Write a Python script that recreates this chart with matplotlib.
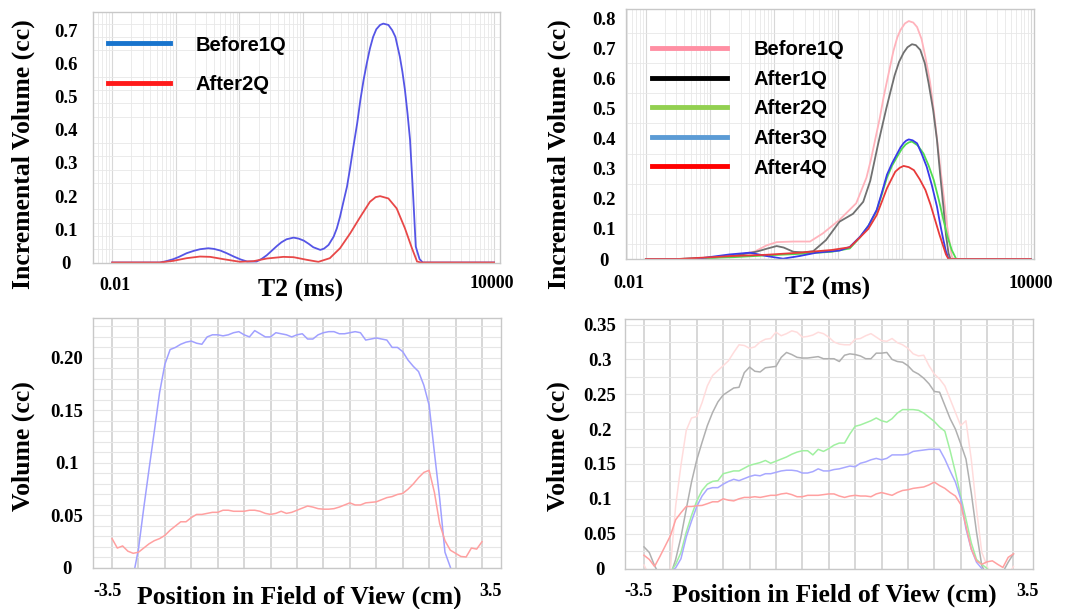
import numpy as np
import matplotlib
matplotlib.use("Agg")
import matplotlib.pyplot as plt
from matplotlib.lines import Line2D
from matplotlib.ticker import MultipleLocator, LogLocator

# ---- NMR T2 distribution, left (log10 of T2 in ms, incremental volume cc)
tl_before_logt2 = [-2, -1.6, -1.25, -1.15, -1.04, -0.95, -0.83, -0.72, -0.62, -0.49, -0.4, -0.3, -0.2, -0.09,
                   0.02, 0.12, 0.27, 0.35, 0.43, 0.51, 0.59, 0.66, 0.74, 0.85, 0.93, 1.01, 1.09, 1.16, 1.27,
                   1.33, 1.4, 1.48, 1.53, 1.58, 1.63, 1.69, 1.74, 1.79, 1.85, 1.9, 1.95, 2.0, 2.05, 2.1, 2.15,
                   2.21, 2.26, 2.34, 2.4, 2.45, 2.52, 2.56, 2.6, 2.64, 2.68, 2.73, 2.77, 2.83, 2.88, 4]
tl_before_vol = [0, 0, 0, 0.004, 0.01, 0.017, 0.028, 0.035, 0.04, 0.043, 0.041, 0.036, 0.028, 0.018,
                 0.009, 0.003, 0.003, 0.011, 0.022, 0.036, 0.05, 0.061, 0.07, 0.075, 0.072, 0.066, 0.056, 0.046, 0.038,
                 0.042, 0.053, 0.078, 0.103, 0.138, 0.18, 0.229, 0.287, 0.349, 0.42, 0.49, 0.55, 0.6, 0.645, 0.68, 0.703,
                 0.716, 0.72, 0.716, 0.70, 0.68, 0.62, 0.575, 0.52, 0.45, 0.37, 0.198, 0.048, 0.01, 0, 0]
tl_after2_logt2 = [-2, -1.25, -1.04, -0.83, -0.62, -0.46, -0.25, 0.01, 0.22, 0.43, 0.69, 0.85, 1.06, 1.24, 1.42,
                   1.58, 1.74, 1.9, 2.05, 2.14, 2.21, 2.34, 2.47, 2.6, 2.71, 2.79, 2.85, 4]
tl_after2_vol = [0, 0, 0.005, 0.013, 0.018, 0.017, 0.01, 0.002, 0.004, 0.012, 0.017, 0.016, 0.008, 0.002, 0.013,
                 0.043, 0.088, 0.138, 0.183, 0.197, 0.2, 0.193, 0.163, 0.103, 0.043, 0.003, 0, 0]

# ---- NMR T2 distribution, right
tr_before1_logt2 = [-2, -1.3, -1.0, -0.6, -0.3, -0.12, 0.04, 0.3, 0.56, 0.76, 1.02, 1.28, 1.44, 1.51, 1.58, 1.65,
                    1.71, 1.79, 1.86, 1.92, 1.97, 2.04, 2.1, 2.17, 2.23, 2.3, 2.36, 2.43, 2.49, 2.54, 2.59, 2.65,
                    2.7, 2.77, 2.8, 4]
tr_before1_vol = [0, 0, 0.003, 0.012, 0.025, 0.045, 0.056, 0.058, 0.058, 0.085, 0.13, 0.185, 0.27, 0.33, 0.4, 0.47,
                  0.54, 0.62, 0.69, 0.735, 0.76, 0.782, 0.79, 0.785, 0.77, 0.73, 0.67, 0.59, 0.494, 0.40, 0.306, 0.20,
                  0.107, 0.008, 0, 0]
tr_after1_logt2 = [-2, -1.3, -1.0, -0.64, -0.28, -0.1, 0.04, 0.15, 0.3, 0.45, 0.61, 0.81, 1.02, 1.23, 1.39, 1.5,
                   1.56, 1.62, 1.69, 1.75, 1.82, 1.88, 1.95, 2.02, 2.08, 2.15, 2.21, 2.28, 2.35, 2.41, 2.48, 2.54,
                   2.59, 2.64, 2.68, 2.72, 2.75, 4]
tr_after1_vol = [0, 0, 0.004, 0.01, 0.024, 0.035, 0.043, 0.038, 0.024, 0.022, 0.026, 0.063, 0.124, 0.15, 0.19, 0.26,
                 0.32, 0.38, 0.445, 0.5, 0.56, 0.61, 0.655, 0.685, 0.703, 0.713, 0.71, 0.694, 0.65, 0.583, 0.495, 0.395,
                 0.28, 0.174, 0.08, 0.019, 0, 0]
tr_after2_logt2 = [-2, -1.5, -0.64, -0.12, 0.4, 0.9, 1.18, 1.34, 1.47, 1.6, 1.68, 1.76, 1.84, 1.92, 1.99, 2.05,
                   2.1, 2.15, 2.24, 2.33, 2.41, 2.49, 2.57, 2.64, 2.71, 2.77, 2.84, 4]
tr_after2_vol = [0, 0, 0.006, 0.012, 0.017, 0.024, 0.035, 0.072, 0.11, 0.16, 0.215, 0.27, 0.31, 0.34, 0.365, 0.38,
                 0.387, 0.39, 0.377, 0.35, 0.31, 0.262, 0.195, 0.13, 0.07, 0.03, 0, 0]
tr_after3_logt2 = [-2, -1.5, -1.16, -0.7, -0.38, -0.12, 0.14, 0.4, 0.66, 1.02, 1.18, 1.34, 1.47, 1.6, 1.68, 1.76,
                   1.84, 1.92, 1.97, 2.02, 2.06, 2.1, 2.16, 2.23, 2.3, 2.38, 2.46, 2.54, 2.59, 2.64, 2.68, 2.72, 4]
tr_after3_vol = [0, 0, 0.002, 0.015, 0.021, 0.01, 0.001, 0.01, 0.021, 0.028, 0.04, 0.074, 0.11, 0.163, 0.22, 0.28,
                 0.318, 0.35, 0.37, 0.385, 0.393, 0.397, 0.394, 0.384, 0.35, 0.306, 0.245, 0.174, 0.115, 0.063,
                 0.025, 0, 0]
tr_after4_logt2 = [-2, -1.5, -0.64, -0.12, 0.4, 0.9, 1.18, 1.34, 1.47, 1.6, 1.68, 1.76, 1.83, 1.89, 1.96, 2.02,
                   2.1, 2.18, 2.27, 2.36, 2.44, 2.51, 2.58, 2.64, 2.68, 2.72, 4]
tr_after4_vol = [0, 0, 0.01, 0.014, 0.021, 0.03, 0.039, 0.072, 0.10, 0.146, 0.19, 0.235, 0.265, 0.29, 0.303, 0.309,
                 0.305, 0.295, 0.265, 0.229, 0.18, 0.13, 0.08, 0.041, 0.015, 0, 0]

# ---- volume along the field of view (cm)
fov_pos = [-3.5, -3.4, -3.3, -3.2, -3.1, -3.0, -2.9, -2.8, -2.7, -2.6, -2.5, -2.4, -2.3, -2.2, -2.1,
           -2.0, -1.9, -1.8, -1.7, -1.6, -1.5, -1.4, -1.3, -1.2, -1.1, -1.0, -0.9, -0.8, -0.7, -0.6,
           -0.5, -0.4, -0.3, -0.2, -0.1, 0.0, 0.1, 0.2, 0.3, 0.4, 0.5, 0.6, 0.7, 0.8, 0.9,
           1.0, 1.1, 1.2, 1.3, 1.4, 1.5, 1.6, 1.7, 1.8, 1.9, 2.0, 2.1, 2.2, 2.3, 2.4,
           2.5, 2.6, 2.7, 2.8, 2.9, 3.0, 3.1, 3.2, 3.3, 3.4, 3.5]

bl_before = [-0.03, -0.03, -0.03, -0.025, -0.008,
             0.018, 0.057, 0.094, 0.130, 0.167, 0.194, 0.208, 0.210, 0.213, 0.215,
             0.216, 0.214, 0.213, 0.220, 0.222, 0.222, 0.221, 0.222, 0.224, 0.225,
             0.222, 0.220, 0.226, 0.223, 0.220, 0.220, 0.224, 0.223, 0.222, 0.220,
             0.222, 0.223, 0.218, 0.218, 0.222, 0.224, 0.225, 0.225, 0.223, 0.223,
             0.224, 0.225, 0.224, 0.217, 0.218, 0.219, 0.218, 0.217, 0.210, 0.210,
             0.206, 0.198, 0.192, 0.187, 0.174, 0.155, 0.110, 0.066, 0.015, 0.001,
             -0.015, -0.03, -0.03, -0.03, -0.03, -0.03]
bl_after2 = [0.028, 0.019, 0.021, 0.016, 0.014,
             0.015, 0.019, 0.023, 0.026, 0.028, 0.031, 0.036, 0.040, 0.044, 0.044,
             0.048, 0.051, 0.051, 0.052, 0.053, 0.053, 0.055, 0.055, 0.054, 0.054,
             0.054, 0.055, 0.055, 0.054, 0.052, 0.051, 0.052, 0.054, 0.052, 0.053,
             0.055, 0.057, 0.059, 0.058, 0.0565, 0.056, 0.056, 0.0565, 0.058, 0.060,
             0.062, 0.060, 0.060, 0.062, 0.0625, 0.063, 0.065, 0.067, 0.068, 0.070,
             0.071, 0.075, 0.080, 0.086, 0.091, 0.093, 0.072, 0.042, 0.026, 0.017,
             0.014, 0.011, 0.0105, 0.019, 0.018, 0.025]

br_before1 = [0.005, -0.01, -0.03, -0.03, -0.03,
              0.0, 0.09, 0.148, 0.198, 0.216, 0.218, 0.238, 0.262, 0.277, 0.284,
              0.291, 0.298, 0.31, 0.321, 0.32, 0.316, 0.318, 0.325, 0.329, 0.33,
              0.339, 0.334, 0.337, 0.341, 0.339, 0.332, 0.333, 0.335, 0.339, 0.337,
              0.332, 0.325, 0.322, 0.321, 0.321, 0.329, 0.33, 0.334, 0.337, 0.332,
              0.327, 0.326, 0.33, 0.324, 0.321, 0.316, 0.308, 0.305, 0.306, 0.291,
              0.279, 0.272, 0.262, 0.243, 0.224, 0.205, 0.212, 0.157, 0.085, 0.023,
              0.004, -0.02, -0.03, -0.03, -0.01, 0.003]
br_after1 = [0.031, 0.023, 0.004, -0.01, -0.02,
             -0.01, 0.013, 0.045, 0.085, 0.124, 0.156, 0.181, 0.205, 0.224, 0.239,
             0.249, 0.254, 0.259, 0.26, 0.281, 0.289, 0.283, 0.282, 0.288, 0.289,
             0.29, 0.303, 0.31, 0.307, 0.303, 0.302, 0.302, 0.303, 0.304, 0.301,
             0.301, 0.301, 0.297, 0.306, 0.308, 0.307, 0.305, 0.301, 0.301, 0.309,
             0.309, 0.31, 0.30, 0.297, 0.296, 0.291, 0.283, 0.279, 0.273, 0.265,
             0.254, 0.253, 0.234, 0.215, 0.20, 0.179, 0.157, 0.109, 0.052, 0.004,
             -0.01, -0.02, -0.02, -0.005, 0.009, 0.021]
br_after2 = [-0.03, -0.03, -0.03, -0.03, -0.03,
             -0.005, 0.006, 0.023, 0.052, 0.076, 0.097, 0.112, 0.121, 0.125, 0.126,
             0.136, 0.138, 0.14, 0.14, 0.144, 0.148, 0.15, 0.152, 0.155, 0.151,
             0.154, 0.157, 0.16, 0.164, 0.167, 0.169, 0.169, 0.163, 0.171, 0.168,
             0.172, 0.177, 0.18, 0.18, 0.193, 0.204, 0.206, 0.209, 0.212, 0.216,
             0.212, 0.21, 0.215, 0.223, 0.228, 0.228, 0.228, 0.227, 0.223, 0.217,
             0.211, 0.203, 0.197, 0.169, 0.138, 0.104, 0.071, 0.037, 0.013, 0.006,
             0.0, -0.02, -0.03, -0.03, -0.03, -0.03]
br_after3 = [-0.03, -0.03, -0.03, -0.03, -0.03,
             -0.005, 0.001, 0.014, 0.045, 0.068, 0.089, 0.104, 0.114, 0.116, 0.116,
             0.121, 0.125, 0.128, 0.126, 0.129, 0.132, 0.134, 0.133, 0.136, 0.136,
             0.138, 0.14, 0.141, 0.141, 0.14, 0.137, 0.137, 0.139, 0.143, 0.14,
             0.14, 0.142, 0.143, 0.145, 0.147, 0.146, 0.151, 0.153, 0.156, 0.158,
             0.156, 0.158, 0.163, 0.163, 0.163, 0.164, 0.168, 0.169, 0.17, 0.171,
             0.171, 0.171, 0.157, 0.14, 0.124, 0.10, 0.057, 0.028, 0.009, 0.0,
             -0.015, -0.03, -0.03, -0.03, -0.03, -0.03]
br_after4 = [0.019, 0.013, 0.003, 0.017, 0.032,
             0.047, 0.07, 0.08, 0.089, 0.089, 0.09, 0.0905, 0.093, 0.0957, 0.0957,
             0.1, 0.098, 0.097, 0.1, 0.102, 0.102, 0.103, 0.102, 0.1035, 0.105,
             0.105, 0.107, 0.108, 0.106, 0.103, 0.103, 0.105, 0.105, 0.105, 0.106,
             0.107, 0.107, 0.104, 0.102, 0.104, 0.105, 0.104, 0.104, 0.103, 0.107,
             0.109, 0.107, 0.105, 0.109, 0.112, 0.113, 0.115, 0.116, 0.117, 0.12,
             0.124, 0.119, 0.115, 0.109, 0.104, 0.092, 0.061, 0.028, 0.011, 0.006,
             0.0096, 0.011, 0.006, 0.0015, 0.016, 0.021]

tl_labels = ["Before1Q", "After2Q"]
tr_labels = ["Before1Q", "After1Q", "After2Q", "After3Q", "After4Q"]
tl_yticks = ["0", "0.1", "0.2", "0.3", "0.4", "0.5", "0.6", "0.7"]
tr_yticks = ["0", "0.1", "0.2", "0.3", "0.4", "0.5", "0.6", "0.7", "0.8"]
bl_yticks = ["0", "0.05", "0.1", "0.15", "0.20"]
br_yticks = ["0", "0.05", "0.1", "0.15", "0.2", "0.25", "0.3", "0.35"]

SERIF = "Liberation Serif"
SANS = "Liberation Sans"

fig = plt.figure(figsize=(10.68, 6.09), dpi=100)
ax1 = fig.add_axes([93/1068, 1-262.5/609, 407/1068, 250.5/609])
ax2 = fig.add_axes([626/1068, 1-259/609, 408/1068, 250/609])
ax3 = fig.add_axes([93/1068, 1-568/609, 408/1068, 250/609])
ax4 = fig.add_axes([625/1068, 1-568.5/609, 408/1068, 249.5/609])


def frame(ax, ylabels, ystep, pad):
    for s in ax.spines.values():
        s.set_color("#c8c8c8")
        s.set_linewidth(1.0)
    ax.set_yticks(np.arange(len(ylabels)) * ystep)
    ax.set_yticklabels(ylabels, fontfamily=SERIF, fontweight="bold", fontsize=13.5)
    ax.tick_params(which="both", length=0)
    ax.tick_params(axis="y", pad=pad)
    plt.setp(ax.get_yticklabels(), ha="center")
    ax.tick_params(axis="x", which="both", labelbottom=False)
    ax.set_axisbelow(True)


def end_labels(ax, left, right, pos):
    ax.text(pos[0], pos[1], left, transform=ax.transAxes, ha="center", va="center",
            fontfamily=SERIF, fontweight="bold", fontsize=13)
    ax.text(pos[2], pos[3], right, transform=ax.transAxes, ha="center", va="center",
            fontfamily=SERIF, fontweight="bold", fontsize=13)


def axis_titles(ax, xl, yl, xpos, ypos):
    ax.set_xlabel(xl, fontfamily=SERIF, fontweight="bold", fontsize=18.5, va="center")
    ax.set_ylabel(yl, fontfamily=SERIF, fontweight="bold", fontsize=18.5, va="center")
    ax.xaxis.set_label_coords(*xpos)
    ax.yaxis.set_label_coords(*ypos)


# top left: T2 distribution
ax1.plot(10 ** np.array(tl_before_logt2), tl_before_vol, color="#5555e6", lw=1.3)
ax1.plot(10 ** np.array(tl_after2_logt2), tl_after2_vol, color="#e84848", lw=1.3)
ax1.set_xscale("log")
ax1.set_xlim(0.005, 12400)
ax1.set_ylim(0, 0.755)
frame(ax1, tl_yticks, 0.1, 19.5)
ax1.yaxis.set_minor_locator(MultipleLocator(0.04))
ax1.xaxis.set_major_locator(LogLocator(base=10, numticks=20))
ax1.xaxis.set_minor_locator(LogLocator(base=10, subs=np.arange(2, 10), numticks=20))
ax1.grid(which="major", axis="x", color="#d8d8d8", lw=0.8)
ax1.grid(which="minor", color="#e8e8e8", lw=0.6)
end_labels(ax1, "0.01", "10000", (0.054, -0.09, 0.98, -0.082))
axis_titles(ax1, "T2 (ms)", "Incremental Volume (cc)", (0.509, -0.11), (-0.172, 0.433))
h1 = [Line2D([], [], color="#1874cd", lw=3.5), Line2D([], [], color="#ff1a1a", lw=3.5)]
ax1.legend(h1, tl_labels, loc="upper left", bbox_to_anchor=(0.037, 0.906), frameon=False,
           prop={"family": SANS, "weight": "bold", "size": 14.5}, handlelength=3.1,
           handletextpad=1.25, labelspacing=1.0, borderpad=0, borderaxespad=0)

# top right: T2 distribution, all quarters
ax2.plot(10 ** np.array(tr_before1_logt2), tr_before1_vol, color="#ffb3bc", lw=1.3)
ax2.plot(10 ** np.array(tr_after1_logt2), tr_after1_vol, color="#707070", lw=1.3)
ax2.plot(10 ** np.array(tr_after2_logt2), tr_after2_vol, color="#50dc50", lw=1.3)
ax2.plot(10 ** np.array(tr_after3_logt2), tr_after3_vol, color="#3a3aea", lw=1.3)
ax2.plot(10 ** np.array(tr_after4_logt2), tr_after4_vol, color="#e83a3a", lw=1.3)
ax2.set_xscale("log")
ax2.set_xlim(0.0049, 11300)
ax2.set_ylim(0, 0.83)
frame(ax2, tr_yticks, 0.1, 16)
ax2.yaxis.set_minor_locator(MultipleLocator(0.05))
ax2.xaxis.set_major_locator(LogLocator(base=10, numticks=20))
ax2.xaxis.set_minor_locator(LogLocator(base=10, subs=np.arange(2, 10), numticks=20))
ax2.grid(which="major", axis="x", color="#d8d8d8", lw=0.8)
ax2.grid(which="minor", color="#e8e8e8", lw=0.6)
end_labels(ax2, "0.01", "10000", (0.007, -0.096, 0.992, -0.096))
axis_titles(ax2, "T2 (ms)", "Incremental Volume (cc)", (0.493, -0.116), (-0.164, 0.42))
h2 = [Line2D([], [], color=c, lw=3.5) for c in ["#ff8fa3", "#000000", "#92d050", "#5b9bd5", "#ff0000"]]
ax2.legend(h2, tr_labels, loc="upper left", bbox_to_anchor=(0.064, 0.875), frameon=False,
           prop={"family": SANS, "weight": "bold", "size": 14.5}, handlelength=3.7,
           handletextpad=1.35, labelspacing=0.525, borderpad=0, borderaxespad=0)

# bottom left: volume along field of view
ax3.plot(fov_pos, bl_before, color="#a0a0ff", lw=1.1)
ax3.plot(fov_pos, bl_after2, color="#ffa0a0", lw=1.1)
ax3.set_xlim(-3.86, 3.86)
ax3.set_ylim(0, 0.238)
frame(ax3, bl_yticks, 0.05, 18.7)
ax3.xaxis.set_major_locator(MultipleLocator(0.5))
ax3.yaxis.set_minor_locator(MultipleLocator(0.01))
ax3.grid(which="major", axis="x", color="#d4d4d4", lw=1.3)
ax3.grid(which="both", axis="y", color="#e6e6e6", lw=0.8)
end_labels(ax3, "-3.5", "3.5", (0.036, -0.096, 0.975, -0.092))
axis_titles(ax3, "Position in Field of View (cm)", "Volume (cc)", (0.505, -0.116), (-0.172, 0.488))

# bottom right: volume along field of view, all quarters
ax4.plot(fov_pos, br_before1, color="#ffdcdc", lw=1.1)
ax4.plot(fov_pos, br_after1, color="#b0b0b0", lw=1.1)
ax4.plot(fov_pos, br_after2, color="#a0f0a0", lw=1.1)
ax4.plot(fov_pos, br_after3, color="#a8a8ff", lw=1.1)
ax4.plot(fov_pos, br_after4, color="#ffa0a0", lw=1.1)
ax4.set_xlim(-3.86, 3.87)
ax4.set_ylim(0, 0.358)
frame(ax4, br_yticks, 0.05, 18)
ax4.xaxis.set_major_locator(MultipleLocator(0.5))
ax4.yaxis.set_minor_locator(MultipleLocator(0.025))
ax4.grid(which="major", axis="x", color="#d4d4d4", lw=1.3)
ax4.grid(which="both", axis="y", color="#e6e6e6", lw=0.8)
end_labels(ax4, "-3.5", "3.5", (0.032, -0.094, 0.987, -0.094))
axis_titles(ax4, "Position in Field of View (cm)", "Volume (cc)", (0.514, -0.106), (-0.164, 0.49))

plt.savefig("out.png", dpi=100)
